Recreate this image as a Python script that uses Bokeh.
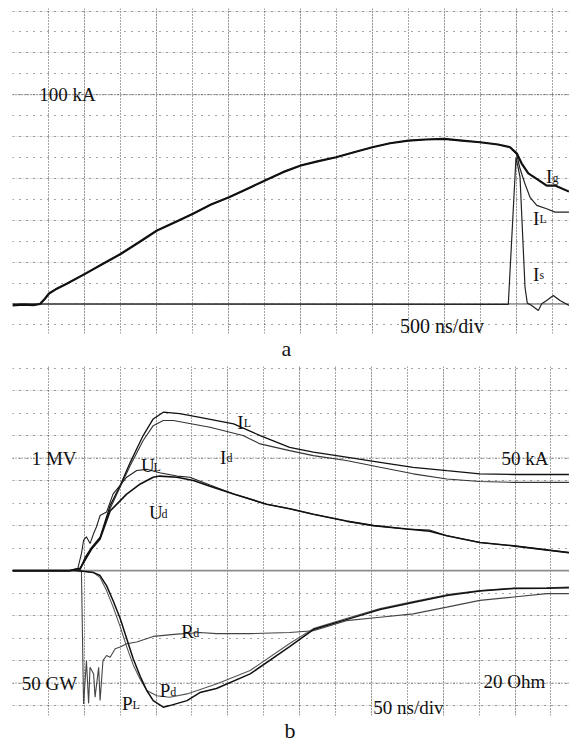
from bokeh.plotting import figure
from bokeh.models import Range1d, Grid, FixedTicker, Span, Label, Title
from bokeh.layouts import column
from bokeh.embed import file_html
from bokeh.resources import INLINE

# ---------------- panel a : 500 ns/div, 10 kA/div ----------------
# common part of the generator current Ig and load current IL (they coincide)
a_rise_t = [0, 150, 300, 382, 450, 507, 600, 753, 1007, 1257, 1507, 1757, 2007, 2257,
            2507, 2757, 3007, 3257, 3507, 3757, 4003, 4250, 4493, 4743, 4997, 5243,
            5497, 5743, 5993, 6243, 6493, 6743, 6910]
a_rise_i = [-0.7, -0.3, -0.5, 0.0, 2.5, 5.0, 7.0, 9.7, 14.4, 19.2, 24.0, 29.5, 35.1, 39.1,
            43.1, 47.5, 51.0, 55.0, 59.0, 63.0, 66.2, 68.3, 70.1, 72.5, 74.9, 76.8,
            78.1, 78.6, 78.9, 78.1, 77.3, 76.2, 74.9]
ig_tail_t = [7003, 7072, 7164, 7281, 7419, 7535, 7729]
ig_tail_i = [72.0, 67.1, 62.4, 59.8, 56.6, 56.6, 53.7]
il_tail_t = [7003, 7049, 7118, 7188, 7281, 7419, 7535, 7729]
il_tail_i = [71.5, 64.6, 57.4, 51.0, 47.1, 45.5, 43.9, 43.9]
is_t = [0, 6886, 6993, 7049, 7118, 7150, 7211, 7303, 7350, 7419, 7511, 7604, 7729]
is_i = [0.0, -0.2, 70.1, 60.6, 8.0, 0.4, -0.7, -3.1, 0.1, 1.7, 4.1, 1.7, -0.7]

# ---------------- panel b : 50 ns/div ----------------
il_t = [0, 80, 94, 101, 110, 122, 136, 150, 164, 182, 196, 210, 233, 261, 308, 345,
        386, 419, 465, 512, 558, 605, 651, 698, 775]
il_ka = [0, 0, 0.4, 5.8, 10.2, 14.8, 28.9, 37.8, 48.1, 60.0, 67.4, 70.4, 69.8, 68.1, 65.2,
         60.0, 54.8, 52.6, 50.4, 48.1, 45.9, 44.4, 43.0, 42.7, 42.7]
id_t = [0, 80, 94, 110, 122, 136, 164, 182, 196, 210, 224, 275, 321, 345, 386, 419, 465,
        512, 558, 605, 651, 698, 775]
id_ka = [0, 0, 0.4, 9.8, 14.2, 27.6, 46.7, 57.8, 64.4, 66.7, 66.7, 63.7, 60.0, 56.3, 53.3,
         51.1, 48.9, 45.9, 43.0, 40.7, 39.6, 39.2, 39.2]
ul_t = [0, 80, 91, 96, 99, 103, 108, 113, 117, 122, 131, 140, 159, 173, 187, 205, 229,
        247, 275, 308, 354, 386, 419, 465, 503, 549, 581, 605, 651, 698, 749, 775]
ul_mv = [0, 0, 0.02, 0.15, 0.27, 0.30, 0.24, 0.33, 0.39, 0.49, 0.52, 0.68, 0.83, 0.89,
         0.90, 0.87, 0.84, 0.83, 0.76, 0.68, 0.59, 0.55, 0.50, 0.44, 0.40, 0.37, 0.36,
         0.31, 0.25, 0.22, 0.18, 0.16]
ud_t = [0, 80, 94, 110, 122, 136, 159, 178, 196, 205, 229, 252, 275, 308, 354, 386, 419,
        465, 503, 549, 581, 605, 651, 698, 749, 775]
ud_mv = [0, 0, 0.02, 0.19, 0.28, 0.53, 0.68, 0.77, 0.83, 0.84, 0.83, 0.80, 0.75, 0.68,
         0.59, 0.55, 0.50, 0.44, 0.40, 0.37, 0.35, 0.31, 0.25, 0.22, 0.18, 0.16]
pl_t = [0, 87, 101, 113, 122, 131, 140, 150, 159, 168, 178, 187, 196, 210, 219, 243, 261,
        284, 331, 386, 419, 465, 512, 558, 605, 651, 698, 744, 775]
pl_gw = [0, 0, 0.4, 0.9, 2.2, 6.7, 13.3, 21.3, 30.2, 39.1, 47.1, 53.3, 57.8, 60.7, 60.0,
         57.8, 54.2, 52.4, 45.9, 33.8, 26.2, 21.8, 17.3, 14.2, 11.1, 9.1, 8.0, 7.8, 7.6]
pd_t = [0, 87, 101, 113, 122, 131, 140, 150, 159, 168, 178, 187, 201, 219, 243, 284, 331,
        386, 419, 465, 512, 558, 605, 651, 698, 744, 775]
pd_gw = [0, 0, 0.4, 0.9, 3.1, 8.9, 16.0, 24.9, 33.8, 41.8, 48.4, 53.3, 55.6, 56.3, 54.8,
         50.4, 44.4, 32.4, 25.8, 21.3, 16.9, 13.8, 10.7, 8.9, 7.8, 7.6, 7.3]
rd_t = [96, 99, 103, 106, 108, 113, 115, 120, 122, 126, 131, 136, 143, 150, 159, 173, 196,
        229, 261, 284, 331, 386, 419, 465, 512, 558, 605, 651, 698, 744, 775]
rd_ohm = [0, 23.7, 16.0, 23.6, 17.2, 18.4, 22.5, 17.2, 23.1, 16.0, 15.1, 15.4, 13.9, 13.6,
          13.0, 12.7, 11.7, 11.3, 11.0, 11.2, 11.2, 11.0, 10.7, 8.9, 8.3, 7.7, 6.5, 5.3,
          4.7, 4.1, 4.1]

# screen scales (value per division); powers / resistance are drawn downward
DIV_MV, DIV_KA, DIV_GW, DIV_OHM = 0.2, 10.0, 10.0, 4.0

FONT = "Liberation Serif"
TXT = "#111111"
DOT = "#4a4a4a"
ZERO = "#8c8c8c"


def base_fig(w, h, xr, yr, top, bottom):
    p = figure(width=w, height=h, x_range=xr, y_range=yr, output_backend="svg",
               toolbar_location=None, x_axis_location=None, y_axis_location=None,
               min_border_left=12, min_border_right=0, min_border_top=top,
               min_border_bottom=bottom, background_fill_color="white",
               border_fill_color="white")
    p.outline_line_color = None
    return p


def grids(p, xt, yt, majors):
    p.add_layout(Grid(dimension=0, ticker=FixedTicker(ticks=xt), grid_line_color=DOT,
                      grid_line_dash="1 2", grid_line_width=1))
    p.add_layout(Grid(dimension=1, ticker=FixedTicker(ticks=yt), grid_line_color=DOT,
                      grid_line_dash="1 6", grid_line_width=1))
    for m in majors:
        p.add_layout(Span(location=m, dimension="width", line_color=DOT,
                          line_dash="1 2", line_width=1, level="underlay"))
    p.add_layout(Span(location=0, dimension="width", line_color=ZERO, line_width=1.6,
                      level="underlay"))


def label(p, x, y, text, size=19, rn="default", xo=0, yo=0):
    p.add_layout(Label(x=x, y=y, text=text, text_font=FONT, text_font_size=f"{size}px",
                       text_color=TXT, text_baseline="alphabetic", y_range_name=rn,
                       x_offset=xo, y_offset=yo))


def sublabel(p, x, y, main, sub, w, rn="default"):
    label(p, x, y, main, 19, rn)
    label(p, x, y, sub, 12, rn, xo=w, yo=-1)


def caption(p, text, off):
    p.add_layout(Title(text=text, align="left", text_font=FONT, text_font_size="22px",
                       text_font_style="normal", text_color=TXT, offset=off,
                       standoff=0), "below")


# ---------------- panel a ----------------
pa = base_fig(569, 362, Range1d(0, 7736), Range1d(-14.1, 141.2), 8, 29)
grids(pa, list(range(0, 8000, 500)), list(range(-10, 150, 10)), [100])
pa.line(a_rise_t + il_tail_t, a_rise_i + il_tail_i, line_color="#222222", line_width=1.2)
pa.line(is_t, is_i, line_color="#222222", line_width=1.2)
pa.line(a_rise_t + ig_tail_t, a_rise_i + ig_tail_i, line_color="#111111", line_width=2.2)
label(pa, 372, 100, "100 kA")
label(pa, 5382, -10.6, "500 ns/div", 20)
sublabel(pa, 7410, 60.9, "I", "g", 6.5)
sublabel(pa, 7229, 40.9, "I", "L", 6.5)
sublabel(pa, 7229, 14.1, "I", "s", 6.5)
caption(pa, "a", 269)

# ---------------- panel b ----------------
lo, hi = -6.44, 9.07
pb = base_fig(569, 383, Range1d(0, 775.8), Range1d(lo, hi), 4, 30)
pb.extra_y_ranges = {
    "U": Range1d(lo * DIV_MV, hi * DIV_MV),
    "I": Range1d(lo * DIV_KA, hi * DIV_KA),
    "P": Range1d(-lo * DIV_GW, -hi * DIV_GW),
    "R": Range1d(-lo * DIV_OHM, -hi * DIV_OHM),
}
grids(pb, list(range(0, 800, 50)), list(range(-6, 10)), [5, -5])
pb.line(rd_t, rd_ohm, y_range_name="R", line_color="#444444", line_width=1.1)
pb.line(pd_t, pd_gw, y_range_name="P", line_color="#555555", line_width=1.1)
pb.line(pl_t, pl_gw, y_range_name="P", line_color="#111111", line_width=1.5)
pb.line(id_t, id_ka, y_range_name="I", line_color="#333333", line_width=1.1)
pb.line(il_t, il_ka, y_range_name="I", line_color="#111111", line_width=1.3)
pb.line(ul_t, ul_mv, y_range_name="U", line_color="#222222", line_width=1.1)
pb.line(ud_t, ud_mv, y_range_name="U", line_color="#111111", line_width=1.6)

label(pb, 26.7, 1.0, "1 MV", rn="U")
label(pb, 681, 50, "50 kA", rn="I")
label(pb, 12.8, 50, "50 GW", rn="P")
label(pb, 656, 19.7, "20 Ohm", rn="R")
label(pb, 502.5, -6.07, "50 ns/div")
sublabel(pb, 313, 66, "I", "L", 6.5, "I")
sublabel(pb, 289, 50.4, "I", "d", 6.5, "I")
sublabel(pb, 179, 0.934, "U", "L", 12.5, "U")
sublabel(pb, 190, 0.516, "U", "d", 12.5, "U")
sublabel(pb, 235, 10.84, "R", "d", 12, "R")
sublabel(pb, 205, 53.3, "P", "d", 10.5, "P")
sublabel(pb, 152.5, 59.1, "P", "L", 10.5, "P")
caption(pb, "b", 272)

page = column(pa, pb)
open("out.html", "w").write(file_html(page, INLINE))
